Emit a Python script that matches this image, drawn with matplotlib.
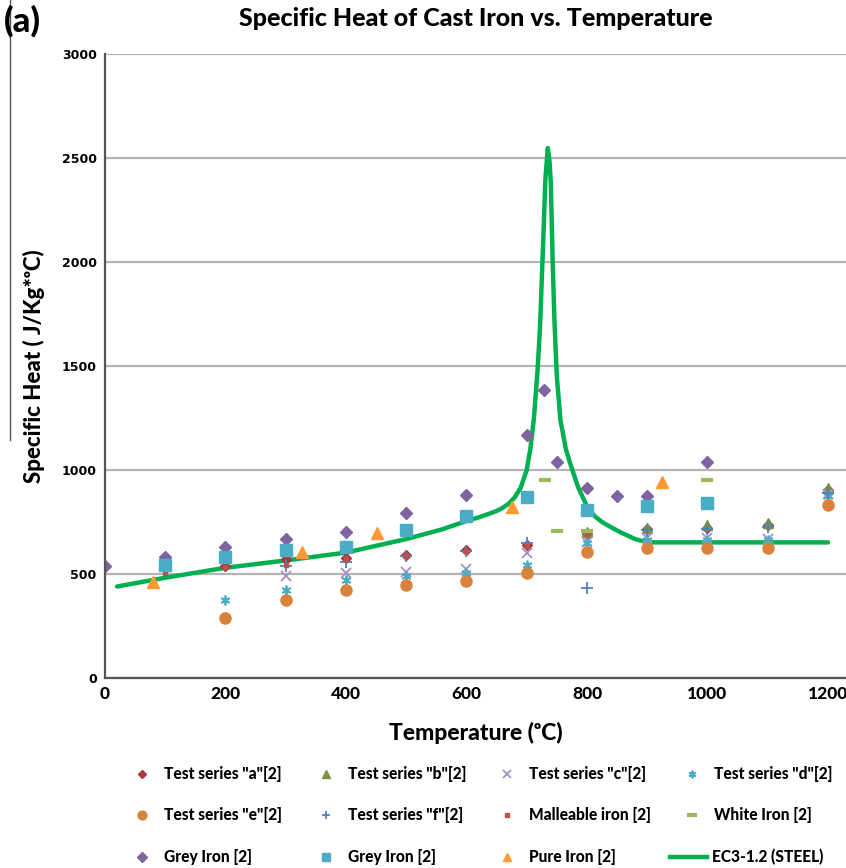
import matplotlib
matplotlib.use("Agg")
import matplotlib.pyplot as plt
from matplotlib.lines import Line2D

plt.rcParams['font.family'] = ['Lato', 'DejaVu Sans']

# Data (temperature in C, specific heat J/kg*C)
series_a_t = [200, 300, 400, 500, 600, 700, 800, 900, 1000, 1100, 1200]
series_a_c = [540, 570, 575, 590, 615, 640, 690, 715, 720, 735, 905]

series_b_t = [800, 900, 1000, 1100, 1200]
series_b_c = [700, 722, 735, 745, 915]

series_c_t = [300, 400, 500, 600, 700, 800, 900, 1000, 1100, 1200]
series_c_c = [490, 505, 510, 525, 600, 655, 675, 675, 670, 885]

series_d_t = [200, 300, 400, 500, 600, 700, 800, 900, 1000, 1100, 1200]
series_d_c = [375, 425, 470, 490, 505, 545, 650, 665, 665, 665, 875]

series_e_t = [200, 300, 400, 500, 600, 700, 800, 900, 1000, 1100, 1200]
series_e_c = [288, 375, 423, 447, 468, 505, 606, 625, 625, 625, 832]

series_f_t = [300, 400, 500, 600, 700, 800, 900, 1000, 1100, 1200]
series_f_c = [540, 560, 585, 612, 650, 433, 712, 718, 728, 890]

malleable_t = [100, 200, 300, 400, 500, 600, 700, 800]
malleable_c = [505, 535, 545, 570, 590, 610, 635, 690]

white_t = [730, 750, 800, 1000]
white_c = [952, 707, 707, 952]

grey_d_t = [0, 100, 200, 300, 400, 500, 600, 700, 728, 750, 800, 850, 900, 1000]
grey_d_c = [538, 582, 630, 668, 702, 793, 880, 1168, 1385, 1040, 913, 875, 875, 1038]

grey_s_t = [100, 200, 300, 400, 500, 600, 700, 800, 900, 1000]
grey_s_c = [543, 582, 615, 630, 712, 780, 870, 808, 827, 841]

pure_t = [80, 327, 452, 676, 924]
pure_c = [462, 606, 697, 822, 942]

ec3_t = [20, 100, 200, 300, 400, 500, 560, 600, 620, 640, 650, 660, 670, 680,
         690, 700, 706, 712, 718, 722, 725, 728, 731, 735, 738, 740, 743, 746,
         750, 756, 765, 773, 785, 800, 812, 825, 840, 856, 880, 900, 1200]
ec3_c = [440, 482, 530, 565, 603, 668, 715, 755, 772, 792, 803, 818, 838, 868,
         915, 1000, 1100, 1250, 1480, 1680, 1913, 2150, 2400, 2548, 2480, 2380,
         2010, 1720, 1450, 1240, 1100, 1024, 920, 825, 780, 750, 725, 700, 668,
         652, 652]

W, H = 846, 868
fig = plt.figure(figsize=(W / 100, H / 100), dpi=100)
ax = fig.add_axes([105/W, 190/H, 741/W, 624/H])

# (x, y, marker, colour, size, edge width, label)
scatter_series = [
    (series_a_t, series_a_c, 'D', '#A8383A', 5, 1, 'Test series "a"[2]'),
    (series_b_t, series_b_c, '^', '#77933C', 7, 1, 'Test series "b"[2]'),
    (series_c_t, series_c_c, 'x', '#A48FC0', 7, 1.3, 'Test series "c"[2]'),
    (series_d_t, series_d_c, (6, 2, 0), '#4BACC6', 7, 1.3, 'Test series "d"[2]'),
    (series_e_t, series_e_c, 'o', '#D9823B', 8, 1, 'Test series "e"[2]'),
    (series_f_t, series_f_c, '+', '#4F81BD', 8, 1.3, 'Test series "f"[2]'),
    (malleable_t, malleable_c, 's', '#C0504D', 3, 1, 'Malleable iron [2]'),
    (white_t, white_c, '_', '#9BBB59', 9, 3, 'White Iron [2]'),
    (grey_d_t, grey_d_c, 'D', '#8064A2', 6.5, 1, 'Grey Iron [2]'),
    (grey_s_t, grey_s_c, 's', '#4BACC6', 8, 1, 'Grey Iron [2]'),
    (pure_t, pure_c, '^', '#FF9933', 8, 1, 'Pure Iron [2]'),
]
for xs, ys, mk, col, size, mew, lab in scatter_series:
    ax.plot(xs, ys, marker=mk, color=col, ms=size, mew=mew, ls='none', label=lab)
ax.plot(ec3_t, ec3_c, '-', color='#00B050', lw=3.2, label='EC3-1.2 (STEEL)', zorder=1.5,
        solid_joinstyle='round', solid_capstyle='round')

ax.set_xlim(0, 1230)
ax.set_ylim(0, 3000)
ax.set_xticks([0, 200, 400, 600, 800, 1000, 1200])
ax.set_yticks([0, 500, 1000, 1500, 2000, 2500, 3000])
ax.grid(axis='y', color='#b4b4b4', lw=1.6)
ax.set_axisbelow(True)
for s in ['top', 'right']:
    ax.spines[s].set_visible(False)
for s in ['left', 'bottom']:
    ax.spines[s].set_color('#555555')
    ax.spines[s].set_linewidth(1.6)
ax.tick_params(length=0, pad=6)
for lbl in ax.get_xticklabels():
    lbl.set_fontsize(12.5)
    lbl.set_fontweight('black')
for lbl in ax.get_yticklabels():
    lbl.set_family('DejaVu Sans')
    lbl.set_fontsize(9)
    lbl.set_fontweight('bold')

ax.set_xlabel('Temperature (\u1d52C)', fontsize=16.5, fontweight='black', labelpad=14)
ax.set_ylabel('Specific Heat ( J/Kg*\u1d52C)', fontsize=16, fontweight='black', labelpad=12)

fig.text(476/W, 1 - 18/H, 'Specific Heat of Cast Iron vs. Temperature',
         ha='center', va='center', fontsize=18, fontweight='black')
fig.text(4/W, 1 - 21/H, '(a)', ha='left', va='center', fontsize=25, fontweight='black')
fig.add_artist(Line2D([10/W, 10/W], [1, 1 - 440/H], color='#555555', lw=1))

# legend drawn by hand: 3 rows x 4 columns, read left to right
row_y = [774, 815, 857]
col_x = [142, 326, 507, 692]
for i, (xs, ys, mk, col, size, mew, lab) in enumerate(scatter_series):
    r, c = divmod(i, 4)
    y = 1 - row_y[r] / H
    fig.add_artist(Line2D([col_x[c] / W], [y], marker=mk, color=col, ms=size * 0.8,
                          mew=mew, ls='none'))
    fig.text((col_x[c] + 22) / W, y, lab, ha='left', va='center',
             fontsize=11.2, fontweight='black')
y = 1 - row_y[2] / H
fig.add_artist(Line2D([670 / W, 707 / W], [y, y], color='#00B050', lw=3.2))
fig.text(712 / W, y, 'EC3-1.2 (STEEL)', ha='left', va='center',
         fontsize=11.2, fontweight='black')

fig.savefig('out.png', dpi=100)
